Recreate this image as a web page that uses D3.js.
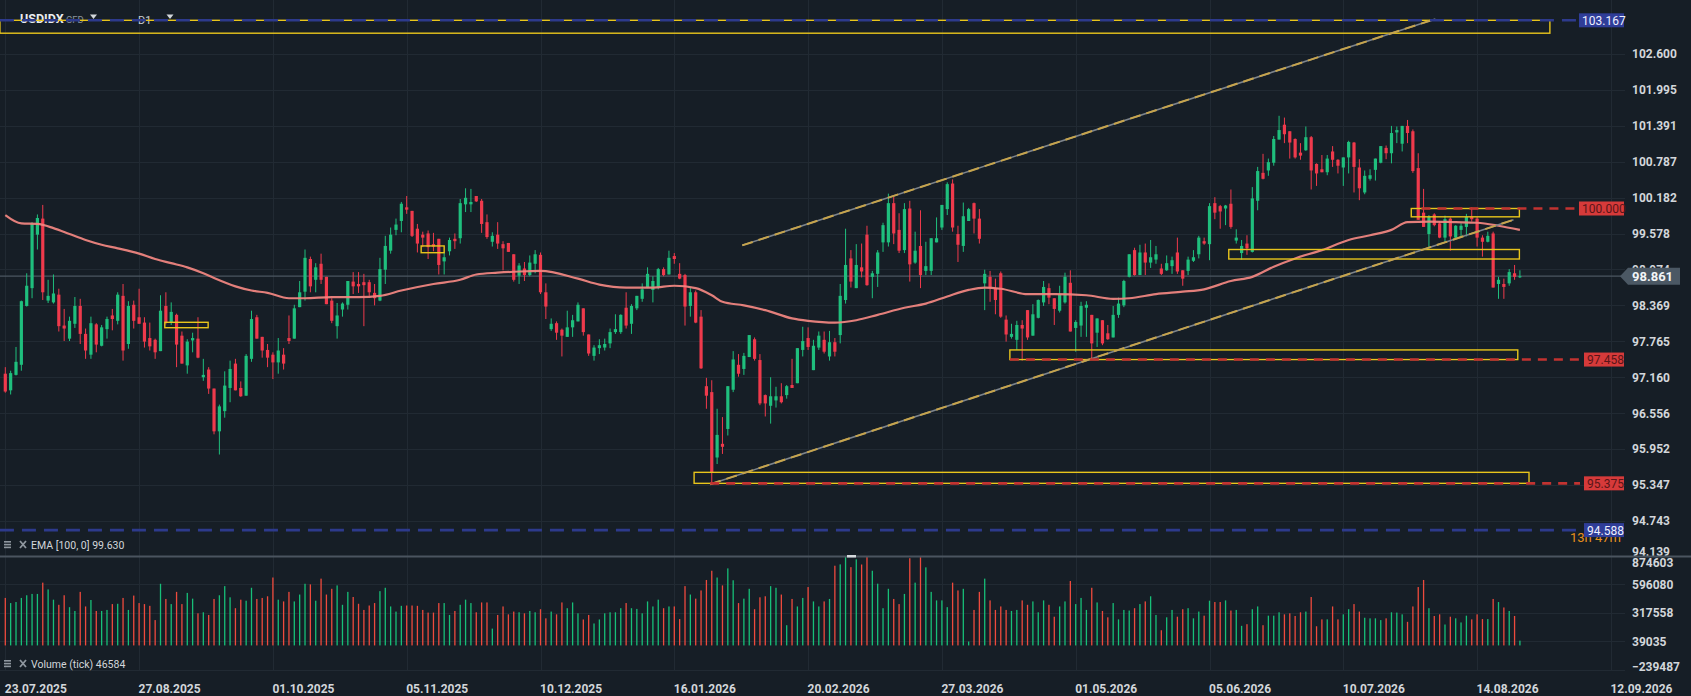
<!DOCTYPE html>
<html lang="en">
<head>
  <meta charset="UTF-8">
  <title>USDIDX D1</title>
  <script src="https://d3js.org/d3.v7.min.js"></script>
  <style>
    html, body { margin: 0; background: #161e26; overflow: hidden; }
    svg { display: block; font-family: Roboto, "DejaVu Sans", sans-serif; }
  </style>
</head>
<body>
  <div id="chart"></div>
  <script>
  // daily candles, bar 0 = 23.07.2025
  const opens = [97.22,96.94,97.20,97.37,98.36,98.66,99.56,99.83,98.45,98.42,
    98.55,98.03,97.81,98.06,98.36,97.89,97.54,98.05,97.69,97.97,
    98.20,98.11,98.53,97.72,98.38,98.17,98.08,97.82,97.79,97.60,
    98.36,98.08,98.21,97.86,97.36,97.78,97.81,97.16,97.29,96.97,
    96.25,96.59,96.98,97.39,96.98,96.85,97.47,98.17,97.84,97.62,
    97.54,97.41,97.54,97.82,97.81,98.34,98.60,99.15,98.80,99.07,
    98.85,98.45,98.02,98.30,98.38,98.77,98.73,98.76,98.76,98.58,
    98.45,98.97,99.29,99.64,99.79,100.02,99.96,99.66,99.56,99.58,
    99.40,99.49,99.11,99.28,99.49,99.50,100.07,100.07,100.21,100.13,
    99.77,99.44,99.56,99.40,99.42,99.23,98.87,98.99,98.88,99.07,
    99.22,98.59,97.97,98.07,97.96,97.84,98.00,98.10,98.32,97.88,
    97.52,97.65,97.66,97.73,97.92,97.92,98.33,98.06,98.32,98.48,
    98.67,98.63,98.67,98.98,98.89,99.20,98.90,98.88,98.36,98.59,
    98.18,97.01,96.91,95.81,96.04,96.29,96.95,97.37,97.30,97.50,
    97.80,97.45,96.86,96.68,96.77,96.84,96.86,97.03,97.06,97.62,
    97.82,97.28,97.66,97.79,97.51,97.75,97.87,98.46,99.16,98.66,
    99.01,99.56,98.85,98.90,99.43,99.43,100.09,99.64,99.30,100.00,
    99.09,99.37,98.95,98.95,99.43,99.68,99.99,100.42,99.57,99.37,
    99.79,100.09,99.83,98.74,98.85,98.66,98.91,98.13,97.84,97.79,
    98.04,98.29,97.86,98.16,98.42,98.66,98.49,98.28,98.42,98.75,
    97.99,98.03,98.33,98.21,97.91,98.12,97.90,97.83,98.21,98.37,
    98.85,99.30,98.88,99.26,99.09,99.14,98.99,98.96,99.03,99.26,
    98.96,98.95,99.12,99.23,99.45,99.40,100.09,100.04,100.00,100.08,
    99.46,99.25,99.41,99.27,100.13,100.60,100.64,100.77,101.16,101.41,
    101.30,101.17,100.94,100.98,101.20,100.75,100.66,100.61,100.96,100.82,
    100.69,100.86,101.11,100.69,100.27,100.50,100.65,100.77,101.02,100.93,
    101.28,101.09,101.39,101.30,100.68,99.93,99.57,99.90,99.75,99.51,
    99.83,99.51,99.64,99.69,99.86,99.83,99.51,99.44,99.58,98.73,
    98.73,98.74,98.91,98.85]
  const highs = [97.33,97.27,97.67,98.45,98.91,99.77,99.90,100.06,98.80,98.89,
    98.65,98.31,98.18,98.51,98.48,97.98,98.18,98.07,98.04,98.18,
    98.31,98.59,98.73,98.44,98.45,98.65,98.17,98.08,97.81,98.54,
    98.59,98.42,98.23,97.93,97.80,97.91,98.17,97.47,97.33,96.97,
    96.70,97.26,97.44,97.47,97.09,97.55,98.28,98.21,97.84,97.72,
    97.58,97.82,97.65,98.20,98.38,98.78,99.31,99.19,99.08,99.24,
    98.85,98.49,98.41,98.42,98.78,98.93,98.93,98.90,98.80,98.73,
    99.17,99.54,99.68,99.83,100.11,100.21,99.96,99.74,99.61,99.63,
    99.59,99.49,99.26,99.51,99.58,100.16,100.34,100.33,100.21,100.16,
    99.90,99.60,99.77,99.45,99.42,99.23,99.08,99.10,99.21,99.30,
    99.26,98.74,98.15,98.10,97.98,98.28,98.21,98.42,98.32,97.88,
    97.70,97.80,97.81,97.98,98.22,98.22,98.59,98.39,98.53,98.74,
    99.01,98.86,99.00,99.01,99.29,99.25,99.08,98.90,98.67,98.62,
    98.29,97.15,97.11,96.63,96.49,97.01,97.60,97.55,97.57,97.87,
    97.83,97.55,96.87,97.16,97.00,97.06,97.03,97.47,97.65,98.01,
    98.00,97.79,97.93,97.93,97.94,97.82,98.73,99.66,99.30,99.40,
    99.41,99.71,98.95,99.30,99.76,100.25,100.20,99.92,100.09,100.13,
    99.61,99.97,99.44,99.50,99.85,100.06,100.44,100.49,99.71,100.10,
    100.01,100.10,99.99,98.97,98.95,98.82,98.94,98.20,98.06,98.11,
    98.12,98.29,98.39,98.47,98.78,98.74,98.49,98.70,98.92,98.96,
    98.12,98.43,98.44,98.21,98.15,98.12,98.04,98.36,98.50,98.80,
    99.23,99.34,99.39,99.41,99.47,99.37,99.07,99.21,99.19,99.51,
    98.96,99.19,99.30,99.54,99.51,100.09,100.19,100.06,100.06,100.32,
    99.65,99.47,99.55,100.36,100.70,100.92,100.84,101.22,101.56,101.53,
    101.30,101.18,101.10,101.38,101.22,100.76,100.90,100.90,101.05,100.83,
    100.86,101.14,101.12,100.83,100.64,100.66,100.84,101.05,101.06,101.39,
    101.38,101.39,101.49,101.33,100.93,100.33,99.89,99.92,99.78,99.88,
    99.85,99.72,99.75,99.91,100.02,99.86,99.55,99.61,99.61,98.85,
    98.82,98.98,99.05,98.96]
  const lows = [96.90,96.87,97.19,97.27,98.35,98.49,99.31,98.46,98.41,98.40,
    97.93,97.77,97.77,97.99,97.72,97.47,97.47,97.58,97.68,97.81,
    97.95,98.05,97.44,97.64,97.98,98.06,97.66,97.61,97.47,97.60,
    98.05,98.04,97.33,97.39,97.22,97.58,97.48,97.10,96.88,96.20,
    95.86,96.48,96.74,96.94,96.83,96.85,97.42,97.81,97.49,97.33,
    97.13,97.22,97.29,97.72,97.81,98.34,98.45,98.59,98.59,98.73,
    98.39,98.07,97.81,98.18,98.30,98.56,98.58,98.02,98.53,98.37,
    98.44,98.73,99.24,99.55,99.60,99.91,99.52,99.26,99.35,99.15,
    99.28,98.89,98.89,99.21,99.32,99.41,99.94,99.94,100.11,99.59,
    99.49,99.36,99.32,98.96,99.27,98.77,98.73,98.78,98.86,98.91,
    98.56,98.14,97.94,97.79,97.51,97.84,97.84,98.10,97.86,97.52,
    97.44,97.55,97.61,97.65,97.89,97.89,97.98,97.89,98.29,98.43,
    98.66,98.42,98.64,98.86,98.89,99.07,98.81,98.03,98.18,98.07,
    97.30,96.63,95.36,95.70,95.87,96.18,96.91,97.17,97.20,97.50,
    97.44,96.69,96.50,96.38,96.65,96.72,96.80,96.98,97.06,97.51,
    97.62,97.28,97.62,97.56,97.44,97.51,97.73,98.40,98.67,98.66,
    98.84,98.70,98.49,98.68,99.27,99.36,99.40,99.25,99.25,98.77,
    99.07,98.66,98.88,98.88,99.43,99.64,99.89,99.61,99.10,99.27,
    99.79,99.58,99.41,98.29,98.43,98.22,98.16,97.76,97.81,97.62,
    97.44,97.79,97.86,98.15,98.36,98.39,98.04,98.25,98.40,97.93,
    97.59,97.84,97.84,97.48,97.67,97.70,97.79,97.83,98.16,98.34,
    98.84,98.87,98.88,98.88,99.00,99.07,98.88,98.95,98.90,98.90,
    98.70,98.88,99.10,99.16,99.39,99.13,99.82,99.66,99.72,99.66,
    99.41,99.14,99.22,99.26,99.97,100.49,100.55,100.72,101.16,101.10,
    100.84,100.84,100.82,100.97,100.32,100.38,100.61,100.56,100.70,100.59,
    100.38,100.59,100.27,100.14,100.24,100.47,100.47,100.76,100.83,100.76,
    101.10,100.96,101.10,100.60,99.81,99.69,99.33,99.70,99.50,99.44,
    99.29,99.50,99.53,99.53,99.78,99.36,99.19,99.43,98.67,98.48,
    98.48,98.70,98.80,98.83]
  const closes = [96.92,97.23,97.42,98.44,98.70,99.74,99.84,98.59,98.53,98.57,
    98.02,97.98,98.11,98.36,97.89,97.61,98.07,97.71,98.00,98.14,
    98.14,98.55,97.61,98.36,98.11,98.06,97.76,97.68,97.58,98.28,
    98.08,98.26,97.71,97.39,97.76,97.82,97.49,97.20,96.97,96.25,
    96.67,97.02,97.30,96.94,96.84,97.52,98.14,97.81,97.61,97.49,
    97.41,97.61,97.39,97.77,98.32,98.59,99.17,98.69,99.01,98.80,
    98.39,98.11,98.20,98.40,98.78,98.69,98.69,98.71,98.59,98.49,
    98.98,99.37,99.56,99.73,100.08,99.98,99.54,99.41,99.51,99.35,
    99.36,99.05,99.18,99.47,99.45,100.09,100.18,100.11,100.12,99.74,
    99.52,99.54,99.41,99.33,99.27,98.80,99.04,98.88,99.09,99.23,
    98.59,98.35,98.06,97.91,97.86,98.00,98.12,98.38,97.92,97.56,
    97.66,97.70,97.72,97.92,97.97,98.21,98.03,98.36,98.53,98.64,
    98.90,98.78,98.98,98.88,99.17,99.15,98.82,98.35,98.59,98.08,
    97.31,96.85,95.56,96.19,95.99,97.01,97.46,97.22,97.52,97.87,
    97.47,96.72,96.72,96.84,96.84,96.74,97.01,96.98,97.65,97.77,
    97.67,97.69,97.86,97.59,97.75,97.59,98.53,99.05,98.77,99.05,
    98.94,98.71,98.91,99.26,99.72,100.09,99.58,99.29,99.99,99.06,
    99.29,98.88,99.03,99.50,99.50,100.06,100.41,99.68,99.39,99.87,
    99.99,99.83,99.49,98.90,98.66,98.46,98.18,97.88,97.89,98.04,
    97.98,97.83,98.22,98.46,98.68,98.50,98.31,98.56,98.85,97.93,
    98.09,98.36,98.38,97.73,98.15,97.73,97.80,98.21,98.40,98.78,
    99.23,98.88,99.26,99.09,99.18,99.23,98.90,99.08,99.13,98.94,
    98.82,99.14,99.18,99.51,99.41,100.04,99.93,99.95,100.05,99.69,
    99.51,99.37,99.33,100.17,100.63,100.50,100.78,101.17,101.32,101.25,
    101.11,100.86,100.89,101.20,100.64,100.59,100.61,100.84,100.82,100.72,
    100.86,101.12,100.70,100.34,100.55,100.56,100.84,101.05,100.93,101.27,
    101.32,101.39,101.27,100.63,99.81,99.69,99.86,99.72,99.51,99.82,
    99.53,99.71,99.71,99.86,99.82,99.51,99.44,99.54,98.67,98.80,
    98.68,98.93,98.85,98.86]
  const volumes = [463e3,413e3,423e3,463e3,489e3,502e3,502e3,612e3,546e3,446e3,
    396e3,489e3,373e3,336e3,522e3,380e3,443e3,336e3,336e3,346e3,
    403e3,406e3,463e3,346e3,486e3,413e3,403e3,386e3,247e3,601e3,
    453e3,403e3,522e3,403e3,512e3,456e3,313e3,323e3,297e3,453e3,
    489e3,578e3,469e3,363e3,446e3,436e3,562e3,453e3,463e3,479e3,
    662e3,446e3,429e3,522e3,429e3,496e3,601e3,595e3,436e3,651e3,
    496e3,552e3,585e3,396e3,522e3,472e3,406e3,346e3,389e3,413e3,
    529e3,562e3,380e3,330e3,386e3,389e3,389e3,386e3,346e3,320e3,
    320e3,413e3,413e3,297e3,336e3,396e3,446e3,413e3,323e3,419e3,
    419e3,164e3,297e3,380e3,303e3,330e3,323e3,313e3,336e3,323e3,
    353e3,264e3,330e3,303e3,419e3,363e3,419e3,313e3,253e3,297e3,
    214e3,253e3,313e3,323e3,323e3,363e3,413e3,363e3,356e3,313e3,
    429e3,380e3,446e3,363e3,380e3,380e3,257e3,578e3,496e3,456e3,
    536e3,638e3,728e3,662e3,585e3,751e3,635e3,413e3,456e3,552e3,
    353e3,469e3,479e3,578e3,562e3,496e3,197e3,453e3,380e3,463e3,
    569e3,429e3,380e3,429e3,453e3,777e3,790e3,870e3,763e3,839e3,
    789e3,870e3,728e3,602e3,363e3,552e3,453e3,403e3,502e3,850e3,
    612e3,860e3,761e3,522e3,439e3,439e3,373e3,612e3,536e3,552e3,
    38e3,346e3,522e3,651e3,439e3,346e3,380e3,346e3,336e3,346e3,
    439e3,396e3,429e3,323e3,439e3,396e3,280e3,380e3,429e3,628e3,
    403e3,463e3,346e3,562e3,419e3,336e3,274e3,413e3,254e3,346e3,
    340e3,363e3,403e3,429e3,479e3,297e3,148e3,274e3,346e3,280e3,
    353e3,363e3,264e3,330e3,290e3,436e3,423e3,423e3,439e3,340e3,
    346e3,191e3,207e3,353e3,380e3,197e3,290e3,290e3,323e3,303e3,
    313e3,287e3,323e3,330e3,472e3,187e3,254e3,254e3,380e3,254e3,
    303e3,353e3,403e3,330e3,270e3,264e3,264e3,247e3,264e3,323e3,
    320e3,303e3,230e3,380e3,569e3,638e3,363e3,287e3,303e3,204e3,
    280e3,264e3,224e3,290e3,254e3,303e3,257e3,257e3,453e3,423e3,
    370e3,336e3,287e3,46584]

  // EMA(100) at these bars
  const emaBars = [0,3,6,9,12,15,18,21,25,28,31,34,37,39,43,46,49,53,56,61,66,70,74,80,85,88,92,96,
    100,107,111,116,121,125,129,132,134,138,142,147,150,155,159,163,168,172,176,180,183,186,191,
    196,202,207,210,215,220,224,229,233,237,241,246,251,255,259,262,266,271,275,279,283]
  const emaValues = [99.89,99.75,99.74,99.67,99.57,99.47,99.39,99.33,99.24,99.15,99.08,99.01,98.91,98.83,
    98.69,98.62,98.58,98.49,98.49,98.51,98.51,98.53,98.62,98.73,98.80,98.89,98.92,98.94,
    98.95,98.82,98.72,98.67,98.67,98.70,98.66,98.54,98.43,98.37,98.29,98.15,98.11,98.08,98.12,
    98.21,98.33,98.40,98.52,98.63,98.67,98.65,98.56,
    98.56,98.54,98.48,98.49,98.56,98.60,98.64,98.78,98.85,99.02,99.16,99.30,99.47,99.55,99.64,
    99.77,99.78,99.77,99.76,99.71,99.64]

  const dateLabels = ['23.07.2025','27.08.2025','01.10.2025','05.11.2025','10.12.2025','16.01.2026',
    '20.02.2026','27.03.2026','01.05.2026','05.06.2026','10.07.2026','14.08.2026','12.09.2026']
  const priceTicks = [102.600,101.995,101.391,100.787,100.182,99.578,98.974,98.369,97.765,97.160,
    96.556,95.952,95.347,94.743,94.139]
  const volumeTicks = [874603,596080,317558,39035,-239487]

  // drawings: zones (bar from, bar to, top, bottom)
  const zoneFrom = [-1, 29.8, 77.7, 128.7, 187.7, 228.6, 262.7]
  const zoneTo = [288.6, 37.9, 82, 284.7, 282.6, 282.9, 282.9]
  const zoneTop = [103.167, 98.085, 99.37, 95.56, 97.62, 99.31, 100.0]
  const zoneBottom = [102.95, 97.994, 99.256, 95.375, 97.458, 99.15, 99.86]
  // horizontal levels
  const levelValues = [103.167, 100.000, 97.458, 95.375, 94.588]
  const levelFrom = [-1, 264.6, 187.7, 131.7, -1]
  const levelKind = ['blue', 'red', 'red', 'red', 'blue']
  // channel lines
  const trendBarA = [137.7, 131.7]
  const trendPriceA = [99.38, 95.36]
  const trendBarB = [267.2, 281.8]
  const trendPriceB = [103.19, 99.81]
  const lastPrice = 98.861

  const W = 1691, H = 696
  const up = '#1fbf7d', down = '#ef3a4c'
  const svg = d3.select('#chart').append('svg')
    .attr('width', W).attr('height', H)
    .style('background', '#161e26')

  const x = d3.scaleLinear().domain([0, 300]).range([5.3, 1610.9])
  const y = d3.scaleLinear().domain([95.347, 102.6]).range([485, 54])
  const yv = d3.scaleLinear().domain([-239487, 874603]).range([670, 555.7])
  const bars = d3.range(closes.length)

  // grid
  const grid = svg.append('g').attr('stroke', '#212a33').attr('stroke-width', 1)
  grid.selectAll('line.h').data(priceTicks.slice(0, -1)).enter().append('line')
    .attr('x1', 0).attr('x2', 1625)
    .attr('y1', d => Math.round(y(d)) + 0.5).attr('y2', d => Math.round(y(d)) + 0.5)
  grid.selectAll('line.v').data(volumeTicks.slice(1)).enter().append('line')
    .attr('x1', 0).attr('x2', 1625)
    .attr('y1', d => Math.round(yv(d)) + 0.5).attr('y2', d => Math.round(yv(d)) + 0.5)
  grid.selectAll('line.t').data(dateLabels).enter().append('line')
    .attr('x1', (d, i) => Math.round(x(i * 25)) + 0.5).attr('x2', (d, i) => Math.round(x(i * 25)) + 0.5)
    .attr('y1', 0).attr('y2', 671)

  // header
  const head = svg.append('g')
  head.append('text').attr('x', 20).attr('y', 23).text('USDIDX')
    .attr('fill', '#e9ecef').attr('font-size', 12.5).attr('font-weight', 'bold')
  head.append('text').attr('x', 66).attr('y', 23).text('CFD')
    .attr('fill', '#8a939b').attr('font-size', 9.5)
  head.append('text').attr('x', 138).attr('y', 24).text('D1')
    .attr('fill', '#c9ced3').attr('font-size', 11)
  head.selectAll('path').data([93.5, 170]).enter().append('path')
    .attr('d', d => `M${d - 3.5},14.5 L${d + 3.5},14.5 L${d},19 Z`)
    .attr('fill', '#d3d7db')

  // last price line
  svg.append('line').attr('x1', 0).attr('x2', 1622)
    .attr('y1', y(lastPrice)).attr('y2', y(lastPrice))
    .attr('stroke', '#4b5661').attr('stroke-width', 1.3)

  // volume
  svg.append('g').selectAll('rect').data(bars).enter().append('rect')
    .attr('x', i => x(i) - 0.65).attr('width', 1.3)
    .attr('y', i => yv(volumes[i])).attr('height', i => yv(0) - yv(volumes[i]))
    .attr('fill', i => closes[i] >= opens[i] ? '#17bf78' : '#ee4a3d')

  // candles
  const candles = svg.append('g')
  candles.selectAll('line').data(bars).enter().append('line')
    .attr('x1', i => x(i)).attr('x2', i => x(i))
    .attr('y1', i => y(highs[i])).attr('y2', i => y(lows[i]))
    .attr('stroke', i => closes[i] >= opens[i] ? up : down).attr('stroke-width', 1)
  candles.selectAll('rect').data(bars).enter().append('rect')
    .attr('x', i => x(i) - 1.6).attr('width', 3.2)
    .attr('y', i => y(Math.max(opens[i], closes[i])))
    .attr('height', i => Math.max(1, Math.abs(y(opens[i]) - y(closes[i]))))
    .attr('fill', i => closes[i] >= opens[i] ? up : down)

  // EMA
  const ema = d3.line().x(i => x(emaBars[i])).y(i => y(emaValues[i])).curve(d3.curveMonotoneX)
  svg.append('path').attr('d', ema(d3.range(emaBars.length)))
    .attr('fill', 'none').attr('stroke', '#ee8580').attr('stroke-width', 2.2).attr('opacity', 0.95)

  // zones
  svg.append('g').selectAll('rect').data(zoneFrom).enter().append('rect')
    .attr('x', (d, i) => x(zoneFrom[i])).attr('width', (d, i) => x(zoneTo[i]) - x(zoneFrom[i]))
    .attr('y', (d, i) => y(zoneTop[i])).attr('height', (d, i) => y(zoneBottom[i]) - y(zoneTop[i]))
    .attr('fill', 'none').attr('stroke', '#e8c51c').attr('stroke-width', 1.4)

  // channel lines
  const trend = svg.append('g')
  trend.selectAll('line.base').data(trendBarA).enter().append('line')
    .attr('x1', (d, i) => x(trendBarA[i])).attr('y1', (d, i) => y(trendPriceA[i]))
    .attr('x2', (d, i) => x(trendBarB[i])).attr('y2', (d, i) => y(trendPriceB[i]))
    .attr('stroke', '#7c838b').attr('stroke-width', 1.6)
  trend.selectAll('line.dash').data(trendBarA).enter().append('line')
    .attr('x1', (d, i) => x(trendBarA[i])).attr('y1', (d, i) => y(trendPriceA[i]))
    .attr('x2', (d, i) => x(trendBarB[i])).attr('y2', (d, i) => y(trendPriceB[i]))
    .attr('stroke', '#c6a44c').attr('stroke-width', 2).attr('stroke-dasharray', '11,6')

  // horizontal levels
  svg.append('g').selectAll('line').data(levelValues).enter().append('line')
    .attr('x1', (d, i) => x(levelFrom[i])).attr('x2', 1580)
    .attr('y1', d => y(d)).attr('y2', d => y(d))
    .attr('stroke', (d, i) => levelKind[i] === 'blue' ? '#2d3a8c' : '#c23331')
    .attr('stroke-width', 2.6)
    .attr('stroke-dasharray', (d, i) => levelKind[i] === 'blue' ? '14,8' : '9,7')

  // axes
  const axisText = sel => sel.selectAll('text')
    .attr('fill', '#d2d6da').attr('font-size', 12).attr('font-weight', 'bold')
    .attr('font-family', 'Roboto, "DejaVu Sans", sans-serif')
  const priceAxis = svg.append('g').attr('transform', 'translate(1632,0)')
    .call(d3.axisRight(y).tickValues(priceTicks).tickFormat(d3.format('.3f')).tickSize(0).tickPadding(0))
  priceAxis.select('.domain').remove()
  priceAxis.call(axisText)
  priceAxis.selectAll('.tick').filter(d => d === 94.139).select('text').attr('y', -5)

  const volAxis = svg.append('g').attr('transform', 'translate(1632,0)')
    .call(d3.axisRight(yv).tickValues(volumeTicks).tickFormat(d3.format('d')).tickSize(0).tickPadding(0))
  volAxis.select('.domain').remove()
  volAxis.call(axisText)
  volAxis.selectAll('.tick').filter(d => d === 874603).select('text').attr('y', 7)
  volAxis.selectAll('.tick').filter(d => d === -239487).select('text').attr('y', -3)

  const timeAxis = svg.append('g').attr('transform', 'translate(0,671)')
    .call(d3.axisBottom(x).tickValues(d3.range(dateLabels.length).map(k => k * 25))
      .tickFormat(d => dateLabels[d / 25]).tickSize(0).tickPadding(0))
  timeAxis.select('.domain').remove()
  timeAxis.call(axisText)
  timeAxis.selectAll('text').attr('text-anchor', 'start').attr('dx', -1).attr('y', 13)

  // separator between panes
  svg.append('line').attr('x1', 0).attr('x2', W).attr('y1', 556.5).attr('y2', 556.5)
    .attr('stroke', '#4a545f').attr('stroke-width', 2)
  svg.append('rect').attr('x', 847).attr('y', 555).attr('width', 9).attr('height', 2.5).attr('fill', '#d5d9dd')

  // pane legends
  const legends = [['EMA [100, 0] 99.630', 549], ['Volume (tick) 46584', 668]]
  legends.forEach(([t, ly]) => {
    const g = svg.append('g').attr('fill', '#8f979f')
    g.append('rect').attr('x', 4).attr('y', ly - 8).attr('width', 7).attr('height', 1.6)
    g.append('rect').attr('x', 4).attr('y', ly - 5.2).attr('width', 7).attr('height', 1.6)
    g.append('rect').attr('x', 4).attr('y', ly - 2.4).attr('width', 7).attr('height', 1.6)
    g.append('path').attr('d', `M20,${ly - 8} L26,${ly - 1} M26,${ly - 8} L20,${ly - 1}`)
      .attr('stroke', '#8f979f').attr('stroke-width', 1.8)
    svg.append('text').attr('x', 31).attr('y', ly).text(t)
      .attr('fill', '#d2d6da').attr('font-size', 10.5)
  })

  // countdown text sits behind the 94.588 tag
  svg.append('text').attr('x', 1570).attr('y', 542).text('13h 47m')
    .attr('fill', '#e8901c').attr('font-size', 13)

  // level tags
  const tags = svg.append('g')
  levelValues.forEach((v, i) => {
    const label = d3.format('.3f')(v)
    const w = label.length === 7 ? 45 : 40
    tags.append('rect').attr('x', 1624 - w).attr('y', y(v) - 7).attr('width', w).attr('height', 14)
      .attr('fill', levelKind[i] === 'blue' ? '#2f3d98' : '#d63a3a')
    tags.append('text').attr('x', 1624 - w + 3).attr('y', y(v) + 4.5).text(label)
      .attr('fill', levelKind[i] === 'blue' ? '#eef0ff' : '#5a1518').attr('font-size', 12)
  })

  // last price tag
  const ly = y(lastPrice)
  svg.append('path')
    .attr('d', `M1620,${ly} L1628,${ly - 8.5} L1680,${ly - 8.5} L1680,${ly + 8.5} L1628,${ly + 8.5} Z`)
    .attr('fill', '#4b5864')
  svg.append('text').attr('x', 1632).attr('y', ly + 4.5).text(d3.format('.3f')(lastPrice))
    .attr('fill', '#f2f4f6').attr('font-size', 13).attr('font-weight', 'bold')
  </script>
</body>
</html>
